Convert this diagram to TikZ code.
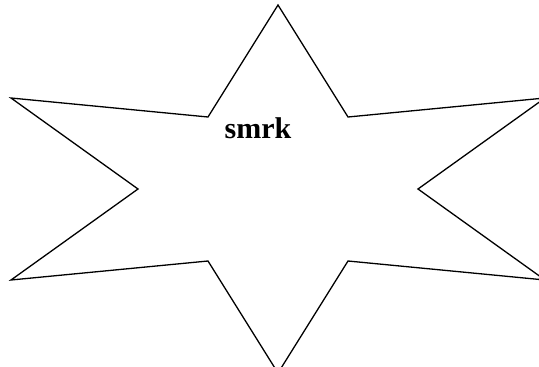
\documentclass[tikz,border=0pt]{standalone}
\usepackage{fontspec}
\setmainfont{Liberation Serif}
\usepackage{tikz}
\usetikzlibrary{positioning}

\begin{document}
\begin{tikzpicture}[
    starline/.style={draw=black, line width=1.3pt, line join=miter},
    lbl/.style={font=\fontsize{30}{30}\selectfont\bfseries, anchor=base, inner sep=0pt},
    x=1pt, y=1pt
  ]
  \useasboundingbox (0,0) rectangle (539,-367);
  % star corners
  \foreach \n/\px/\py in {t/278/5, ti/348/117, r/545/98, ri/418/189, rb/545/280,
                          bi/348/261, b/278/373, lbi/208/261, lb/11/280,
                          li/138/189, l/11/98, tli/208/117} {
    \coordinate (\n) at (\px, -\py);
  }
  % outline
  \draw[starline] (t) -- (ti) -- (r) -- (ri) -- (rb) -- (bi) -- (b)
    -- (lbi) -- (lb) -- (li) -- (l) -- (tli) -- cycle;
  % label
  \node[lbl] (name) at (258, -138) {smrk};
\end{tikzpicture}
\end{document}
